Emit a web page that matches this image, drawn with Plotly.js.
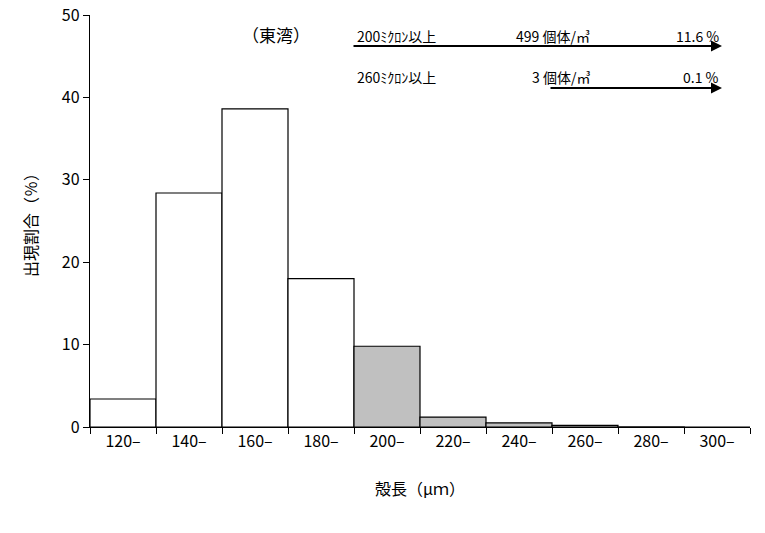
<!DOCTYPE html>
<html>
<head>
<meta charset="utf-8">
<script src="https://cdn.plot.ly/plotly-3.0.1.min.js"></script>
<style>
  html, body { margin: 0; padding: 0; background: #fff; }
  #chart { width: 765px; height: 533px; }
</style>
</head>
<body>
<div id="chart"></div>
<script>
const size_classes = ["120–", "140–", "160–", "180–", "200–", "220–", "240–", "260–", "280–", "300–"];
const share_pct = [3.4, 28.4, 38.6, 18.0, 9.8, 1.2, 0.5, 0.2, 0.02, 0.0];
const bar_fill = ["#ffffff", "#ffffff", "#ffffff", "#ffffff", "#c0c0c0", "#c0c0c0", "#c0c0c0", "#c0c0c0", "#c0c0c0", "#c0c0c0"];
const y_ticks = [0, 10, 20, 30, 40, 50];

const JP_FONT = "'Noto Sans CJK JP', 'Liberation Sans', sans-serif";

const bars = [{
  type: 'bar',
  x: size_classes,
  y: share_pct,
  marker: { color: bar_fill, line: { color: '#000', width: 1.2 } },
  hoverinfo: 'skip',
}];

// arrows under the header lines (paper coords)
function arrow(x0, x1, y) {
  return {
    xref: 'paper', yref: 'paper', axref: 'paper', ayref: 'paper',
    x: x1, y: y, ax: x0, ay: y,
    showarrow: true, arrowhead: 2, arrowsize: 1.1, arrowwidth: 2,
    arrowcolor: '#000', text: '',
  };
}

function label(text, x, y, anchor, size) {
  return {
    xref: 'paper', yref: 'paper', x: x, y: y, xanchor: anchor, yanchor: 'middle',
    showarrow: false, text: text,
    font: { family: JP_FONT, size: size || 14, color: '#000' },
  };
}

// plot area: 90..750 px wide (660), 15..427 px tall (412)
const px = p => (p - 90) / 660;
const py = p => (427 - p) / 412;

const layout = {
  width: 765,
  height: 533,
  margin: { l: 90, r: 15, t: 15, b: 106, pad: 0 },
  paper_bgcolor: '#fff',
  plot_bgcolor: '#fff',
  showlegend: false,
  bargap: 0,
  xaxis: {
    type: 'category',
    range: [-0.5, 9.5],
    tickson: 'boundaries',
    ticks: 'outside',
    ticklen: 6,
    tickcolor: '#000',
    showline: true,
    linecolor: '#000',
    linewidth: 1.2,
    showgrid: false,
    zeroline: false,
    tickfont: { family: JP_FONT, size: 16, color: '#000' },
    title: { text: '殻長（μｍ）', font: { family: JP_FONT, size: 16, color: '#000' }, standoff: 32 },
  },
  yaxis: {
    range: [0, 50],
    tickvals: y_ticks,
    ticks: 'outside',
    ticklen: 6,
    tickcolor: '#000',
    showline: true,
    linecolor: '#000',
    linewidth: 1.2,
    showgrid: false,
    zeroline: false,
    tickfont: { family: JP_FONT, size: 16, color: '#000' },
    title: { text: '出現割合（％）', font: { family: JP_FONT, size: 16, color: '#000' }, standoff: 20 },
  },
  annotations: [
    label('（東湾）', px(240), py(35), 'left', 17),
    label('200ﾐｸﾛﾝ以上', px(355), py(36), 'left', 14),
    label('499 個体/㎥', px(592), py(36), 'right', 14),
    label('11.6 %', px(721), py(36), 'right', 14),
    arrow(px(352), px(722), py(46)),
    label('260ﾐｸﾛﾝ以上', px(355), py(77), 'left', 14),
    label('3 個体/㎥', px(592), py(77), 'right', 14),
    label('0.1 %', px(721), py(77), 'right', 14),
    arrow(px(549), px(722), py(88)),
  ],
};

Plotly.newPlot('chart', bars, layout, { displayModeBar: false, staticPlot: true });
</script>
</body>
</html>
